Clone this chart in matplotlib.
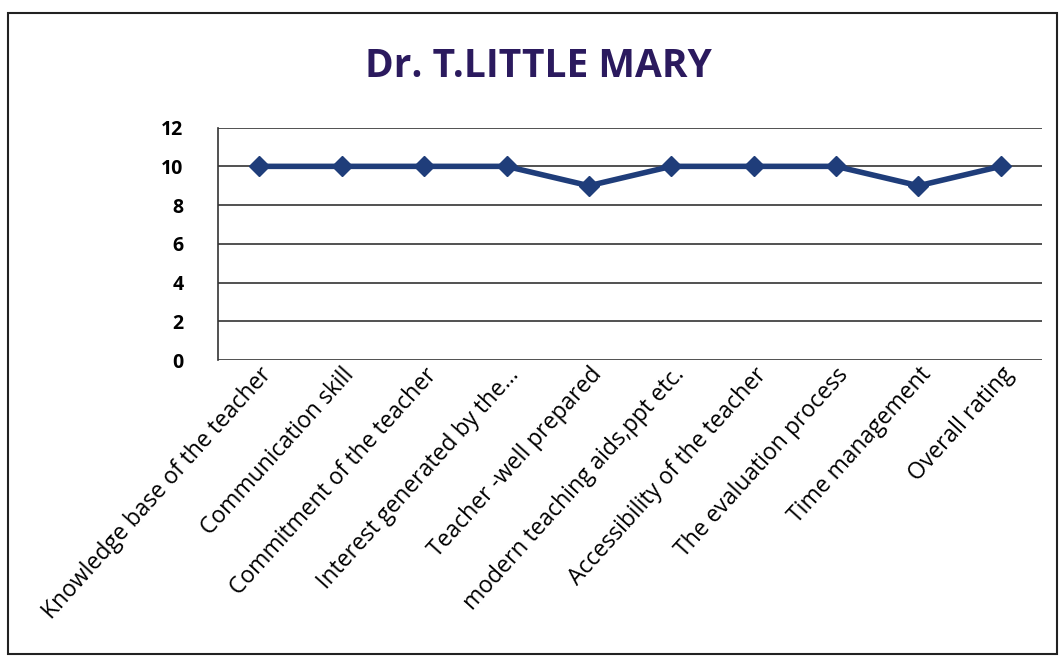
import matplotlib.pyplot as plt
from matplotlib.patches import Rectangle

plt.rcParams['font.family'] = ['Open Sans', 'DejaVu Sans']

# chart data
categories = ['Knowledge base of the teacher', 'Communication skill',
              'Commitment of the teacher', 'Interest generated by the...',
              'Teacher -well prepared', 'modern teaching aids,ppt etc.',
              'Accessibility of the teacher', 'The evaluation process',
              'Time management', 'Overall rating']
ratings = [10, 10, 10, 10, 9, 10, 10, 10, 9, 10]
y_ticks = [0, 2, 4, 6, 8, 10, 12]

fig = plt.figure(figsize=(10.59, 6.61), dpi=100)
ax = fig.add_axes([0.206, 0.455, 0.778, 0.352])

x = range(len(categories))
ax.plot(x, ratings, color='#1f3d7a', linewidth=4, marker='D',
        markersize=10, markerfacecolor='#1f3d7a', markeredgecolor='#1f3d7a',
        zorder=3)

ax.set_ylim(0, 12)
ax.set_xlim(-0.5, len(categories) - 0.5)
ax.set_yticks(y_ticks)
ax.set_yticklabels([str(v) for v in y_ticks], fontsize=14, fontweight='bold')
ax.yaxis.grid(True, color='#333333', linewidth=1.2)
ax.set_axisbelow(True)
ax.tick_params(axis='y', length=0, pad=25)
ax.tick_params(axis='x', length=0, pad=2)

ax.set_xticks(list(x))
ax.set_xticklabels(categories, rotation=48, ha='right', rotation_mode='anchor',
                   fontsize=16.5)

for side in ['top', 'right', 'bottom']:
    ax.spines[side].set_visible(False)
ax.spines['left'].set_color('#333333')
ax.spines['left'].set_linewidth(1.2)

fig.text(0.508, 0.9, 'Dr. T.LITTLE MARY', ha='center', va='center',
         fontsize=28, fontweight='bold', color='#2b1a5e')

# outer chart border
fig.patches.append(Rectangle((0.008, 0.01), 0.99, 0.97, transform=fig.transFigure,
                             fill=False, edgecolor='#222222', linewidth=1.5))

fig.savefig('out.png', dpi=100)
